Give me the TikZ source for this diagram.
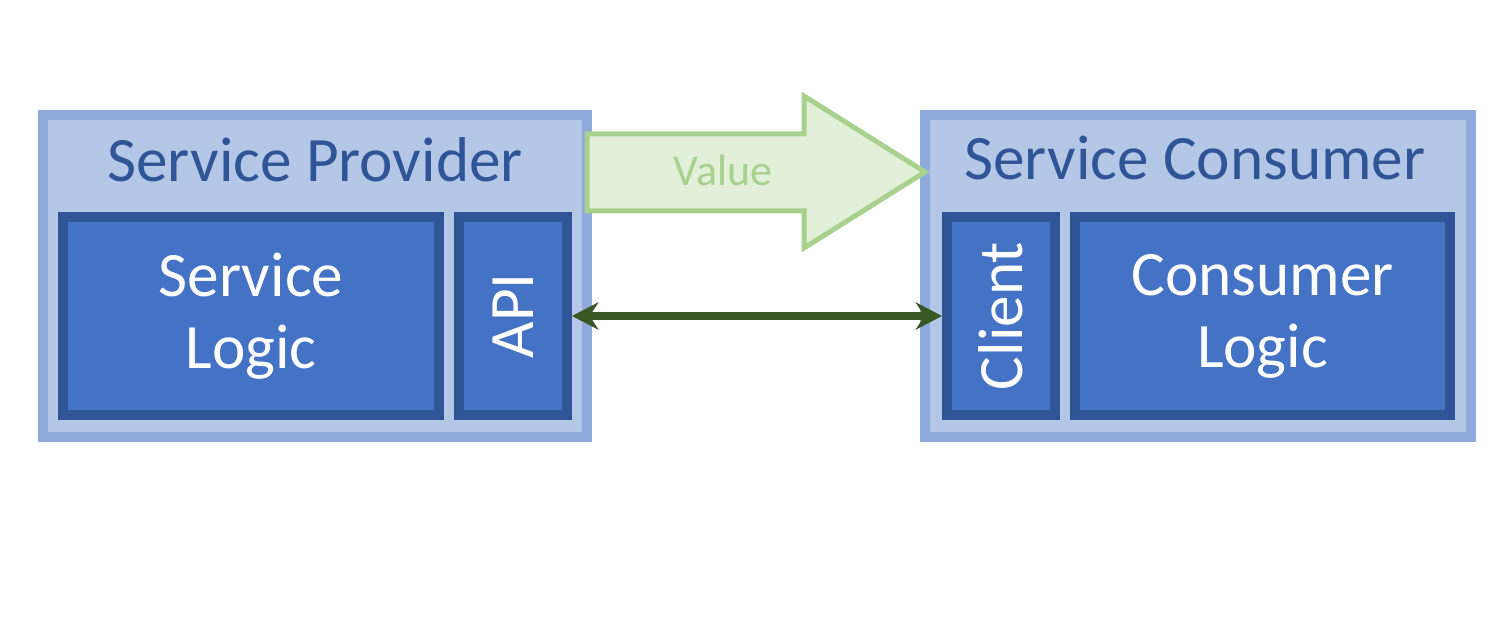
\documentclass[tikz,border=0pt]{standalone}
\usepackage{fontspec}
\setmainfont{Carlito}
\usetikzlibrary{arrows.meta}
\definecolor{marcoclaro}{HTML}{8FAADC}
\definecolor{fondoclaro}{HTML}{B4C7E7}
\definecolor{azul}{HTML}{4472C4}
\definecolor{azuloscuro}{HTML}{2F5597}
\definecolor{verdeclaro}{HTML}{E2F0D9}
\definecolor{verdemarco}{HTML}{A9D18E}
\definecolor{verdeoscuro}{HTML}{385723}
\begin{document}
\begin{tikzpicture}[x=0.02cm,y=-0.02cm,
    outerbox/.style={draw=marcoclaro,fill=fondoclaro,line width=0.2cm,minimum height=6.44cm,inner sep=0pt},
    innerbox/.style={draw=azuloscuro,fill=azul,line width=0.2cm,minimum height=3.96cm,inner sep=0pt},
    boxtext/.style={text=white,font=\fontsize{36}{41}\selectfont,align=center,inner sep=0pt},
    titletext/.style={text=azuloscuro,font=\fontsize{36}{41}\selectfont,anchor=base,inner sep=0pt},
    link/.style={verdeoscuro,line width=4pt,{Stealth[length=15pt,width=15.5pt,inset=5pt]}-{Stealth[length=15pt,width=15.5pt,inset=5pt]}}]
    \useasboundingbox (0,0) rectangle (1508,634);

    %Proveedor
    \node[outerbox,minimum width=10.88cm] (provider) at (315,276) {};
    \node[titletext] (providertitle) at (315,182) {Service Provider};
    \node[innerbox,minimum width=7.52cm] (logic) at (251,316) {};
    \node[boxtext] (logictext) at (logic.center) {Service\\Logic};
    \node[innerbox,minimum width=2.16cm] (api) at (513,316) {};
    \node[boxtext,rotate=90] (apitext) at (api.center) {API};

    %Consumidor
    \node[outerbox,minimum width=10.92cm] (consumer) at (1198,276) {};
    \node[titletext] (consumertitle) at (1195,180) {Service Consumer};
    \node[innerbox,minimum width=2.16cm] (client) at (1001,316) {};
    \node[boxtext,rotate=90] (clienttext) at (client.center) {Client};
    \node[innerbox,minimum width=7.5cm] (clogic) at (1262.5,316) {};
    \node[boxtext] (clogictext) at (clogic.center) {Consumer\\Logic};

    %Flecha de valor
    \draw[verdemarco,fill=verdeclaro,line width=0.1cm,line join=miter]
        (587,134) -- (804,134) -- (804,96) -- (925,172) -- (804,248) -- (804,211) -- (587,211) -- cycle;
    \node[text=verdemarco,font=\fontsize{25}{30}\selectfont,anchor=base,inner sep=0pt] (value) at (723,186) {Value};

    %Conexion
    \draw[link] (api.east) -- (client.west);
\end{tikzpicture}
\end{document}
